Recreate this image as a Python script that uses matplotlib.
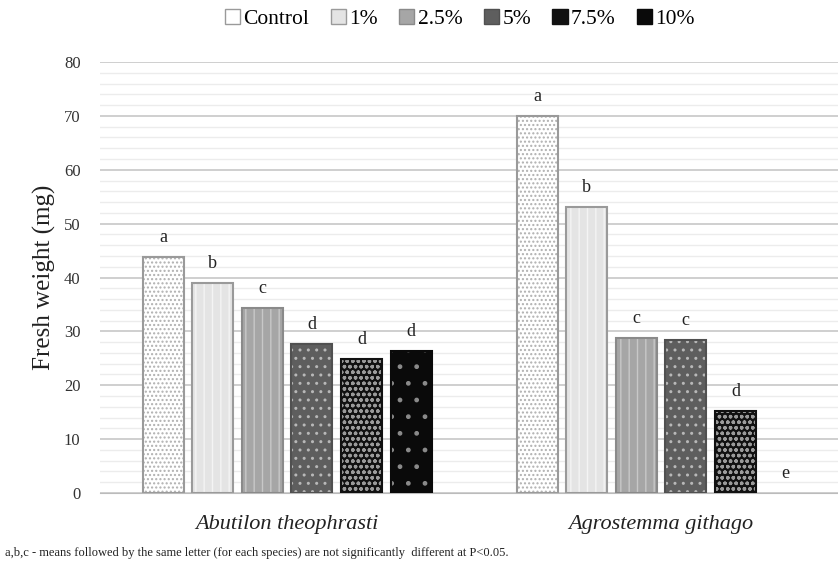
import matplotlib
matplotlib.use("Agg")
import matplotlib.pyplot as plt
import numpy as np
from matplotlib.patches import Patch

species = ["Abutilon theophrasti", "Agrostemma githago"]
treatments = ["Control", "1%", "2.5%", "5%", "7.5%", "10%"]
values = {
    "Control": [43.8, 70.0],
    "1%": [39.0, 53.0],
    "2.5%": [34.4, 28.8],
    "5%": [27.6, 28.4],
    "7.5%": [24.9, 15.2],
    "10%": [26.4, 0.0],
}
letters = {
    "Control": ["a", "a"],
    "1%": ["b", "b"],
    "2.5%": ["c", "c"],
    "5%": ["d", "c"],
    "7.5%": ["d", "d"],
    "10%": ["d", "e"],
}

styles = {
    "Control": dict(fc="#ffffff", hc="#b0b0b0", ec="#9a9a9a", hatch="...."),
    "1%": dict(fc="#e4e4e4", hc="#f4f4f4", ec="#9a9a9a", hatch="||"),
    "2.5%": dict(fc="#a6a6a6", hc="#c8c8c8", ec="#8a8a8a", hatch="||"),
    "5%": dict(fc="#5e5e5e", hc="#b8b8b8", ec="#505050", hatch=".."),
    "7.5%": dict(fc="#111111", hc="#9a9a9a", ec="#111111", hatch="ooo"),
    "10%": dict(fc="#0a0a0a", hc="#8a8a8a", ec="#0a0a0a", hatch="."),
}

plt.rcParams["font.family"] = ["Liberation Serif", "DejaVu Serif"]

W, H = 838, 568
fig = plt.figure(figsize=(W / 100, H / 100), dpi=100)
left_px, right_px, top_px, bot_px = 100, 838, 62, 493
ax = fig.add_axes([left_px / W, 1 - bot_px / H, (right_px - left_px) / W, (bot_px - top_px) / H])

cat_px = 374.0
x = np.arange(len(species))
slot = 49.6 / cat_px
width = 41.0 / cat_px
n = len(treatments)

for i, t in enumerate(treatments):
    st = styles[t]
    pos = x + (i - (n - 1) / 2) * slot
    vals = values[t]
    ax.bar(pos, vals, width, color=st["fc"], edgecolor=st["hc"], hatch=st["hatch"],
           linewidth=0, zorder=3)
    ax.bar(pos, vals, width, fill=False, edgecolor=st["ec"],
           linewidth=[1.5 if v > 0 else 0 for v in vals], zorder=4)
    for xp, v, l in zip(pos, vals, letters[t]):
        ax.annotate(l, (xp, v), xytext=(0, 8), textcoords="offset points",
                    ha="center", va="bottom", fontsize=13, color="#222222")

ax.set_xlim(-0.5, -0.5 + (right_px - left_px) / cat_px)
ax.set_ylim(0, 80)
ax.set_yticks(np.arange(0, 81, 10))
ax.set_yticks(np.arange(0, 81, 2), minor=True)
ax.grid(axis="y", which="major", color="#cfcfcf", linewidth=1.4, zorder=0)
ax.grid(axis="y", which="minor", color="#ececec", linewidth=1.0, zorder=0)
ax.tick_params(axis="y", which="both", length=0, labelsize=12, colors="#333333", pad=14)
ax.tick_params(axis="x", length=0)
ax.set_xticks(x)
ax.set_xticklabels(species, fontsize=16, style="italic", color="#222222")
ax.tick_params(axis="x", pad=16)
for s in ["top", "right", "left"]:
    ax.spines[s].set_visible(False)
ax.spines["bottom"].set_color("#bbbbbb")
ax.set_ylabel("Fresh weight (mg)", fontsize=18, color="#222222", labelpad=6)

handles = []
for t in treatments:
    st = styles[t]
    handles.append(Patch(facecolor=st["fc"], edgecolor=st["ec"], linewidth=1.0))
fig.legend(handles, treatments, loc="center", bbox_to_anchor=(460 / W, 1 - 19 / H),
           ncol=6, frameon=False, fontsize=15.5, handlelength=0.7, handleheight=0.7,
           handletextpad=0.15, columnspacing=1.0)

fig.text(5 / W, 1 - 553 / H,
         "a,b,c - means followed by the same letter (for each species) are not significantly  different at P<0.05.",
         fontsize=9, ha="left", va="center", color="#222222")

fig.savefig("out.png", dpi=100)
